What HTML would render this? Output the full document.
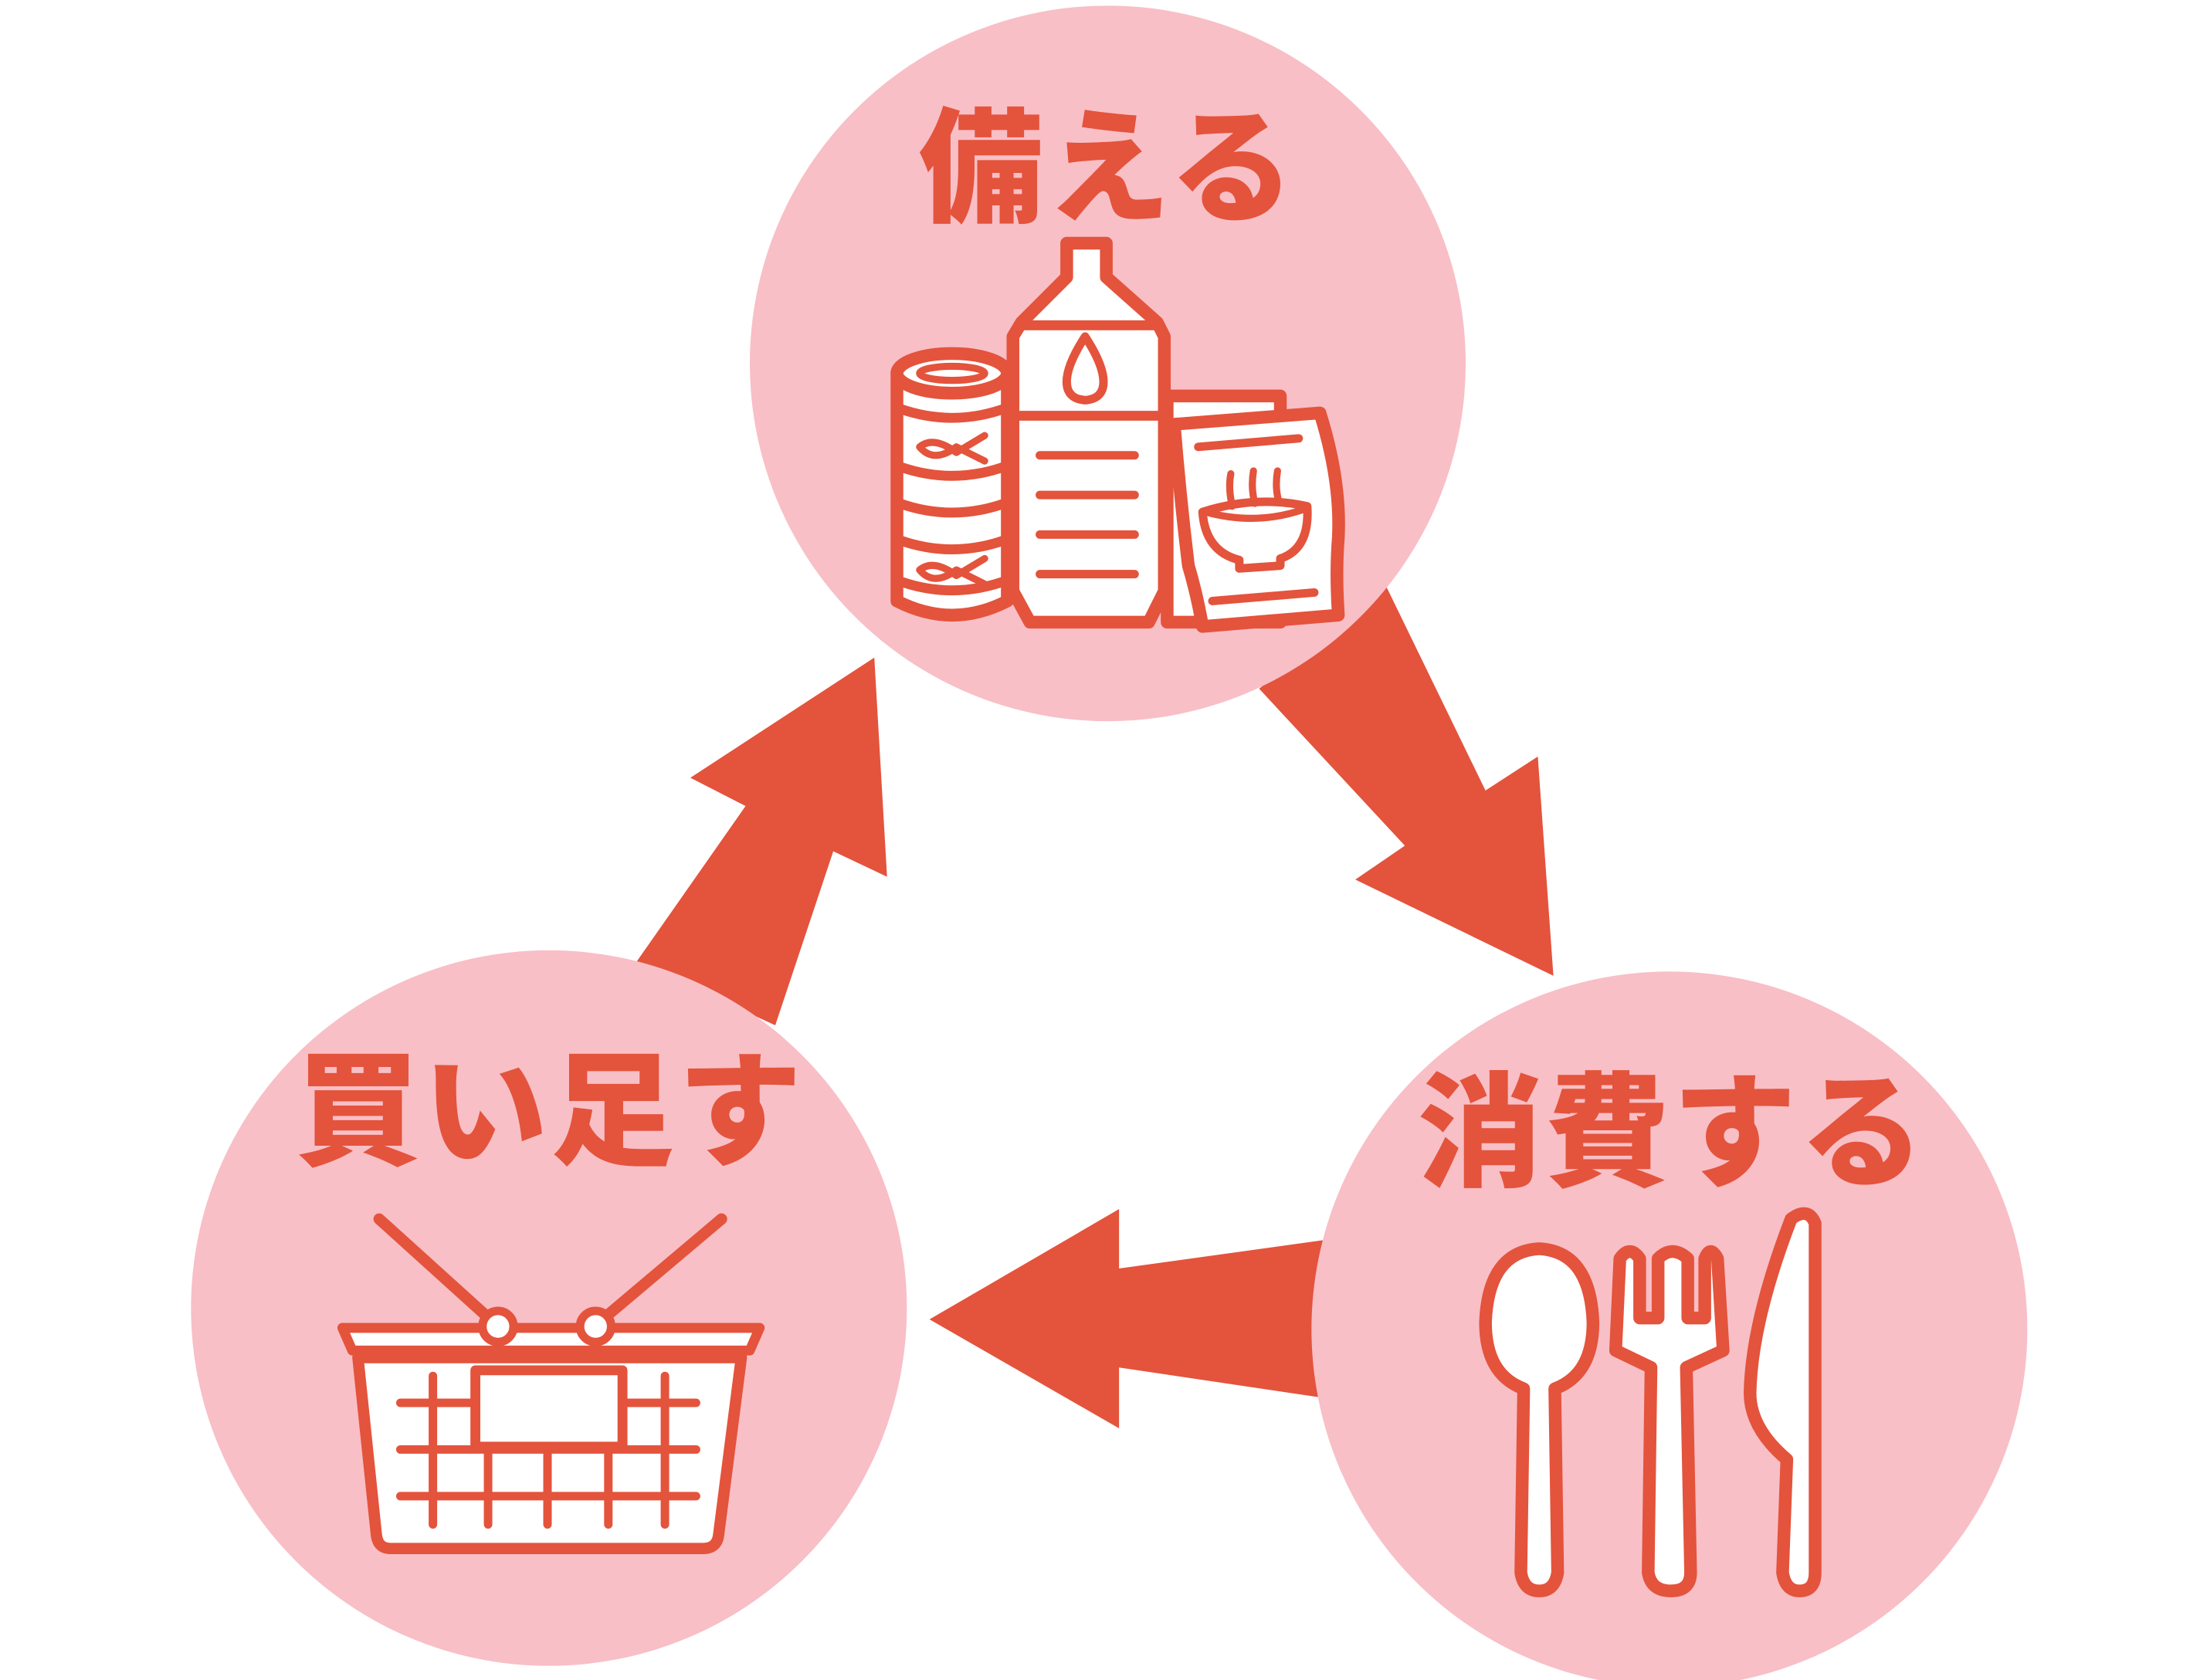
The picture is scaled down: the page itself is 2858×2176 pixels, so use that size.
<!DOCTYPE html>
<html><head><meta charset="utf-8"><style>
html,body{margin:0;padding:0;background:#fff;}
svg{display:block;}
text{font-family:"Liberation Sans","Noto Sans CJK JP",sans-serif;font-weight:900;fill:#e4533c;}
</style></head><body>
<svg width="2858" height="2176" viewBox="0 0 1560 1188" preserveAspectRatio="none" xmlns="http://www.w3.org/2000/svg">
<rect width="1560" height="1188" fill="#fff"/>
<g fill="#e4533c">
<polygon points="450,680 527,570 488,550 618,465 627,620 589,602 548,725"/>
<polygon points="890,487 993,598 958,622 1098,690 1087,535 1050,559 980,415"/>
<polygon points="935,877 791,897 791,855 657,933 791,1010 791,967 932,988"/>
</g>
<g fill="#f8bfc6">
<circle cx="783" cy="257" r="253"/>
<circle cx="388" cy="925" r="253"/>
<circle cx="1180" cy="940" r="253"/>
</g>
<text x="783" y="150" font-size="88" text-anchor="middle" letter-spacing="2">備える</text>
<text x="389" y="817" font-size="88" text-anchor="middle" letter-spacing="2">買い足す</text>
<text x="1182" y="832" font-size="88" text-anchor="middle" letter-spacing="2">消費する</text>

<g fill="#fff" stroke="#e4533c" stroke-width="9" stroke-linejoin="round" stroke-linecap="round">
<path d="M634,264 L634,425 Q673,445 712,425 L712,264 Z"/>
<ellipse cx="673" cy="264" rx="39" ry="14"/>
<ellipse cx="673" cy="264" rx="23" ry="5" stroke-width="5"/>
<path d="M636,289 Q673,302 710,289 M636,330 Q673,343 710,330 M636,356 Q673,369 710,356 M636,382 Q673,395 710,382 M636,411 Q673,424 710,411" fill="none" stroke-width="7"/>
<path d="M696,308 L676,320 Q660,308 650,316 Q660,328 676,316 L696,326" fill="none" stroke-width="5"/>
<path d="M696,395 L676,407 Q660,395 650,403 Q660,415 676,403 L696,413" fill="none" stroke-width="5"/>
<path d="M825,280 L905,280 L905,440 L825,440 Z"/>
<path d="M754,172 L782,172 L782,196 L818,228 L823,238 L823,418 L812,440 L728,440 L716,418 L716,238 L722,228 L754,196 Z"/>
<path d="M722,230 L818,230 M716,294 L823,294" fill="none" stroke-width="7"/>
<path d="M767,238 Q754,258 754,270 Q754,282 767,283 Q780,282 780,270 Q780,258 767,238 Z" stroke-width="6"/>
<path d="M735,322 L802,322 M735,350 L802,350 M735,378 L802,378 M735,406 L802,406" stroke-width="6"/>
<path d="M830,300 L933,292 Q948,340 946,380 Q944,405 946,435 L850,443 Q846,420 840,400 Q834,350 830,300 Z"/>
<path d="M847,316 L918,310 M857,425 L929,419" stroke-width="6" fill="none"/>
<path d="M850,362 Q888,350 924,358 Q926,388 905,395 L905,400 L876,402 L876,396 Q852,390 850,362 Z" stroke-width="6"/>
<path d="M852,362 Q888,372 922,360" stroke-width="5" fill="none"/>
<path d="M870,335 Q868,345 871,358 M886,333 Q884,345 887,356 M903,333 Q901,345 904,355" stroke-width="5" fill="none"/>
<path d="M1088,883 Q1052,885 1050,935 Q1050,972 1077,982 L1075,1112 Q1077,1125 1088,1125 Q1099,1125 1101,1112 L1099,982 Q1126,972 1126,935 Q1124,885 1088,883 Z"/>
<path d="M1145,890 L1142,955 L1167,967 L1165,1112 Q1167,1125 1181,1125 Q1195,1125 1195,1112 L1192,967 L1218,955 L1214,890 Q1209,880 1205,890 L1205,932 L1193,932 L1193,890 Q1182,880 1172,890 L1172,932 L1159,932 L1159,890 Q1152,880 1145,890 Z"/>
<path d="M1283,865 Q1278,853 1266,862 Q1238,935 1237,985 Q1237,1010 1263,1032 L1260,1112 Q1262,1125 1272,1125 Q1283,1125 1283,1112 Z"/>
<path d="M268,862 L352,938 M510,862 L420,938" fill="none" stroke-width="8"/>
<path d="M242,939 L537,939 L530,955 L249,955 Z" stroke-width="7"/>
<path d="M253,960 L524,960 L508,1085 Q507,1095 497,1095 L276,1095 Q267,1095 266,1085 Z" stroke-width="8"/>
<circle cx="352" cy="938" r="11" stroke-width="6"/>
<circle cx="421" cy="938" r="11" stroke-width="6"/>
<path d="M283,992 L335,992 M442,992 L492,992 M283,1025 L492,1025 M283,1058 L492,1058 M306,973 L306,1078 M345,1025 L345,1078 M387,1025 L387,1078 M430,1025 L430,1078 M470,973 L470,1078" stroke-width="6" fill="none"/>
<rect x="336" y="969" width="104" height="54" stroke-width="7"/>
</g>
</svg>
</body></html>
